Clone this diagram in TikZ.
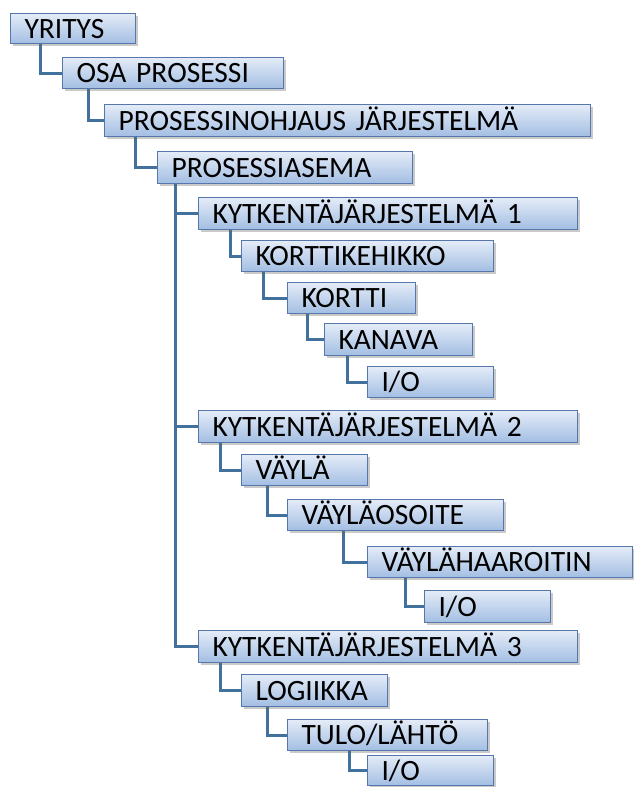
\documentclass[tikz,border=0pt]{standalone}
\usepackage{fontspec}
\setmainfont{Carlito}
\usetikzlibrary{shadows,backgrounds}
\definecolor{boxline}{HTML}{5577AC}
\definecolor{boxtop}{HTML}{E4ECF7}
\definecolor{boxbot}{HTML}{A3BEE3}
\definecolor{conncol}{HTML}{41719C}
\tikzset{
  tbox/.style={draw=boxline, line width=1pt, top color=boxtop, bottom color=boxbot,
    rectangle, anchor=north west, inner xsep=0pt, inner ysep=0pt,
    font=\fontsize{29.5}{29.5}\selectfont, text height=19pt, text depth=0pt,
    drop shadow={shadow xshift=2pt, shadow yshift=-2pt, opacity=0.35, fill=black!60}},
  conn/.style={draw=conncol, line width=3pt}
}
\newcommand{\tb}[6]{% name, left, top, right, bottom, text
  \node[tbox, minimum width=#4pt-#2pt, minimum height=#5pt-#3pt,
        text width=#4pt-#2pt-28pt, align=left] (#1) at (#2,#3) {\hspace*{0pt}#6};}
\begin{document}
\begin{tikzpicture}[x=1pt,y=-1pt]
\useasboundingbox (0,0) rectangle (633,787);
\tb{yr}{10}{13}{135}{43}{YRITYS}
\tb{osa}{62}{57}{283}{88}{OSA PROSESSI}
\tb{poj}{104}{104}{590}{136}{PROSESSINOHJAUS JÄRJESTELMÄ}
\tb{pa}{157}{151}{412}{183}{PROSESSIASEMA}
\tb{ka}{198}{197}{577}{229}{KYTKENTÄJÄRJESTELMÄ 1}
\tb{kk}{241}{240}{493}{271}{KORTTIKEHIKKO}
\tb{ko}{287}{282}{415}{313}{KORTTI}
\tb{kn}{324}{323}{472}{355}{KANAVA}
\tb{ioa}{367}{366}{493}{397}{I/O}
\tb{kb}{198}{410}{577}{442}{KYTKENTÄJÄRJESTELMÄ 2}
\tb{va}{241}{454}{367}{485}{VÄYLÄ}
\tb{vo}{287}{499}{503}{530}{VÄYLÄOSOITE}
\tb{vh}{367}{546}{632}{577}{VÄYLÄHAAROITIN}
\tb{iob}{424}{590}{550}{622}{I/O}
\tb{kc}{198}{630}{577}{662}{KYTKENTÄJÄRJESTELMÄ 3}
\tb{lo}{241}{674}{387}{706}{LOGIIKKA}
\tb{tl}{287}{719}{487}{750}{TULO/LÄHTÖ}
\tb{ioc}{367}{755}{493}{785}{I/O}
\begin{scope}[on background layer]
\draw[conn] ([xshift=30pt]yr.south west) |- (osa.west);
\draw[conn] ([xshift=26pt]osa.south west) |- (poj.west);
\draw[conn] ([xshift=31pt]poj.south west) |- (pa.west);
\draw[conn] ([xshift=18pt]pa.south west) |- (ka.west);
\draw[conn] ([xshift=18pt]pa.south west) |- (kb.west);
\draw[conn] ([xshift=18pt]pa.south west) |- (kc.west);
\draw[conn] ([xshift=32pt]ka.south west) |- (kk.west);
\draw[conn] ([xshift=22pt]kk.south west) |- (ko.west);
\draw[conn] ([xshift=20pt]ko.south west) |- (kn.west);
\draw[conn] ([xshift=23pt]kn.south west) |- (ioa.west);
\draw[conn] ([xshift=22pt]kb.south west) |- (va.west);
\draw[conn] ([xshift=26pt]va.south west) |- (vo.west);
\draw[conn] ([xshift=56pt]vo.south west) |- (vh.west);
\draw[conn] ([xshift=38pt]vh.south west) |- (iob.west);
\draw[conn] ([xshift=22pt]kc.south west) |- (lo.west);
\draw[conn] ([xshift=26pt]lo.south west) |- (tl.west);
\draw[conn] ([xshift=62pt]tl.south west) |- (ioc.west);
\end{scope}
\end{tikzpicture}
\end{document}
